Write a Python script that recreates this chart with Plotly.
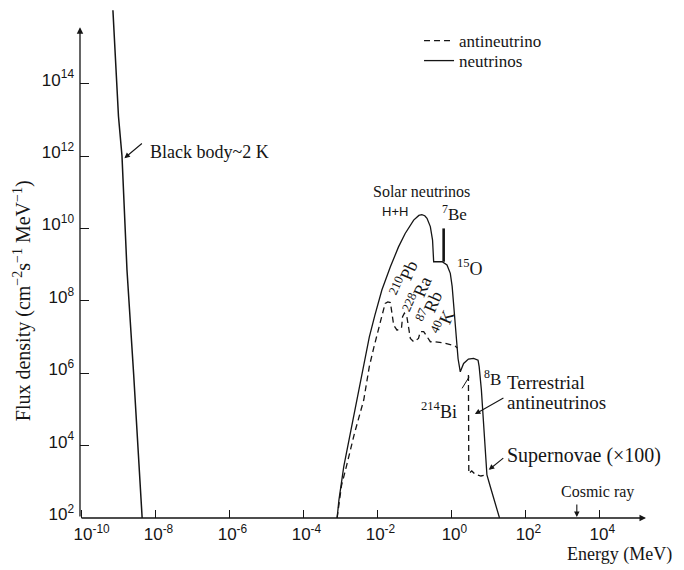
import numpy as np
import plotly.graph_objects as go

# ---------------- data (log10 values) ----------------
# Black body (~2 K) neutrinos
bb_logE = [-9.15, -9.0, -8.905, -8.77, -8.59, -8.48, -8.36]
bb_logF = [16.03, 13.1, 12.0, 8.85, 5.98, 4.02, 2.0]

# Solar neutrinos (solid) continuing into 8B and supernovae (x100)
nu_logE = [-3.09, -3.04, -2.91, -2.73, -2.55, -2.37, -2.22, -2.07, -1.88, -1.65,
           -1.43, -1.25, -1.02, -0.88, -0.80, -0.72, -0.66, -0.57, -0.51, -0.48,
           -0.25, -0.12, -0.03, 0.02, 0.07, 0.13, 0.18, 0.24, 0.33, 0.46,
           0.60, 0.72, 0.75, 0.81, 0.87, 0.92, 0.96, 1.05, 1.19, 1.30]
nu_logF = [2.0, 2.5, 3.42, 4.34, 5.26, 6.18, 7.0, 7.6, 8.30, 8.94,
           9.49, 9.86, 10.23, 10.36, 10.38, 10.35, 10.28, 10.05, 9.68, 9.08,
           9.08, 8.99, 8.76, 8.40, 7.7, 7.0, 6.4, 6.04, 6.27, 6.39,
           6.41, 6.36, 6.18, 5.54, 4.62, 3.88, 3.19, 2.87, 2.41, 2.0]

# 7Be line
be7_logE = [-0.21, -0.21]
be7_logF = [9.08, 10.0]

# Antineutrinos (dashed): 210Pb, 228Ra, 87Rb, 40K bumps
anti_logE = [-3.09, -2.97, -2.84, -2.62, -2.37, -2.22, -2.10, -2.01, -1.90, -1.79,
             -1.72, -1.65, -1.61, -1.56, -1.47, -1.35, -1.32, -1.27, -1.21, -1.16,
             -1.11, -1.02, -0.89, -0.84, -0.75, -0.66, -0.57, -0.44, -0.17, 0.10, 0.16]
anti_logF = [2.0, 2.9, 3.42, 4.34, 5.26, 6.18, 6.7, 7.10, 7.5, 7.93,
             7.97, 7.95, 7.61, 7.33, 7.19, 7.24, 7.56, 7.66, 7.6, 7.28,
             6.96, 6.87, 6.96, 7.15, 7.15, 7.01, 6.87, 6.87, 6.83, 6.75, 6.7]

# Terrestrial antineutrinos (214Bi)
terr_logE = [0.46, 0.46, 0.47, 0.55, 0.65, 0.80, 0.95]
terr_logF = [5.95, 4.6, 3.23, 3.3, 3.2, 3.16, 3.19]

x_tick_exp = [-10, -8, -6, -4, -2, 0, 2, 4]
y_tick_exp = [2, 4, 6, 8, 10, 12, 14]

def p(a):
    return 10 ** np.array(a, dtype=float)

INK = "#151515"
SERIF = "Liberation Serif"
SANS = "Liberation Sans"
DASH = "6px,4px"

fig = go.Figure()
fig.add_trace(go.Scatter(x=p(anti_logE), y=p(anti_logF), mode="lines", name="antineutrino",
                         legend="legend", line=dict(color=INK, width=1.3, dash=DASH)))
fig.add_trace(go.Scatter(x=p(nu_logE), y=p(nu_logF), mode="lines", name="neutrinos",
                         legend="legend2", line=dict(color=INK, width=1.3)))
fig.add_trace(go.Scatter(x=p(terr_logE), y=p(terr_logF), mode="lines", showlegend=False,
                         line=dict(color=INK, width=1.3, dash=DASH)))
fig.add_trace(go.Scatter(x=p(be7_logE), y=p(be7_logF), mode="lines", showlegend=False,
                         line=dict(color=INK, width=2.6)))
fig.add_trace(go.Scatter(x=p(bb_logE), y=p(bb_logF), mode="lines", showlegend=False,
                         line=dict(color=INK, width=1.5)))

XR = [-10.04, 5.26]
YR = [2.0, 16.09]

leg_common = dict(xanchor="left", yanchor="middle", font=dict(family=SERIF, size=17, color=INK),
                  bgcolor="rgba(0,0,0,0)", itemwidth=30, borderwidth=0)

# page has an 8px body margin: figure is 676x562, plot area sits at page x 80..646, y 8..518
fig.update_layout(
    width=676, height=562,
    margin=dict(l=72, r=38, t=0, b=52),
    plot_bgcolor="white", paper_bgcolor="white",
    font=dict(family=SERIF, color=INK, size=16),
    legend=dict(x=0.599, y=0.935, **leg_common),
    legend2=dict(x=0.599, y=0.896, **leg_common),
    xaxis=dict(type="log", range=XR, showgrid=False, zeroline=False, showline=False,
               automargin=False,
               tickvals=[10.0 ** e for e in x_tick_exp],
               ticktext=[("&nbsp;&nbsp;&nbsp;" if e == -10 else "") + "10<sup>%d</sup>" % e
                         for e in x_tick_exp],
               ticks="inside", ticklen=8, tickwidth=1.2, tickcolor=INK,
               ticklabelstandoff=4, ticklabelshift=3,
               tickfont=dict(family=SANS, size=17, color=INK)),
    yaxis=dict(type="log", range=YR, showgrid=False, zeroline=False, showline=False,
               automargin=False,
               tickvals=[10.0 ** e for e in y_tick_exp],
               ticktext=["10<sup>%d</sup>" % e for e in y_tick_exp],
               ticks="inside", ticklen=9, tickwidth=1.2, tickcolor=INK,
               ticklabelshift=-4, ticklabelstandoff=5,
               tickfont=dict(family=SANS, size=17, color=INK)),
)

ann = []
# axis lines with arrowheads
ann.append(dict(x=XR[1], y=YR[0], ax=XR[0], ay=YR[0], xref="x", yref="y", axref="x", ayref="y",
                text="", showarrow=True, arrowhead=2, arrowsize=1, arrowwidth=1.3, arrowcolor=INK))
ann.append(dict(x=XR[0], y=15.56, ax=XR[0], ay=YR[0], xref="x", yref="y", axref="x", ayref="y",
                text="", showarrow=True, arrowhead=2, arrowsize=1, arrowwidth=1.3, arrowcolor=INK))

def txt(x, y, s, size=16, xa="center", angle=0, fam=SERIF):
    ann.append(dict(x=x, y=y, xref="x", yref="y", text=s, showarrow=False, xanchor=xa,
                    yanchor="middle", textangle=angle, font=dict(family=fam, size=size, color=INK)))

def arrow(x, y, ax, ay, head=2, width=1.1):
    ann.append(dict(x=x, y=y, ax=ax, ay=ay, xref="x", yref="y", text="", showarrow=True,
                    arrowhead=head, arrowsize=1, arrowwidth=width, arrowcolor=INK))

txt(-8.20, 12.11, "Black body~2 K", 18, "left")
arrow(-8.84, 11.94, 19, -16)
txt(-0.82, 11.03, "Solar neutrinos", 16)
txt(-1.53, 10.48, "H+H", 13, fam=SANS)
txt(0.07, 10.43, "<sup>7</sup>Be", 17)
txt(0.50, 8.91, "<sup>15</sup>O", 18)
txt(-1.28, 8.62, "<sup>210</sup>Pb", 18, angle=-66)
txt(-0.93, 8.16, "<sup>228</sup>Ra", 18, angle=-66)
txt(-0.58, 7.83, "<sup>87</sup>Rb", 18, angle=-66)
txt(-0.23, 7.41, "<sup>40</sup>K", 18, angle=-66)
txt(1.12, 5.87, "<sup>8</sup>B", 17)
txt(-0.34, 4.96, "<sup>214</sup>Bi", 18)
arrow(0.48, 5.90, -8, 13, head=0, width=1.0)
txt(1.45, 5.73, "Terrestrial", 19, "left")
txt(1.45, 5.20, "antineutrinos", 19, "left")
arrow(0.635, 4.87, 30, -17)
txt(1.45, 3.74, "Supernovae (×100)", 20, "left")
arrow(1.01, 3.33, 16, -13)
txt(3.96, 2.72, "Cosmic ray", 16)
arrow(3.39, 2.03, 0, -14)

# axis titles
ann.append(dict(x=-0.1025, y=0.427, xref="paper", yref="paper", showarrow=False, textangle=-90,
                xanchor="center", yanchor="middle",
                text="Flux density (cm<sup>−2</sup>s<sup>−1</sup> MeV<sup>−1</sup>)",
                font=dict(family=SERIF, size=20, color=INK)))
ann.append(dict(x=0.953, y=-0.0725, xref="paper", yref="paper", showarrow=False,
                xanchor="center", yanchor="middle",
                text="Energy (MeV)", font=dict(family=SERIF, size=18, color=INK)))

fig.update_layout(annotations=ann)
fig.write_html("out.html")
